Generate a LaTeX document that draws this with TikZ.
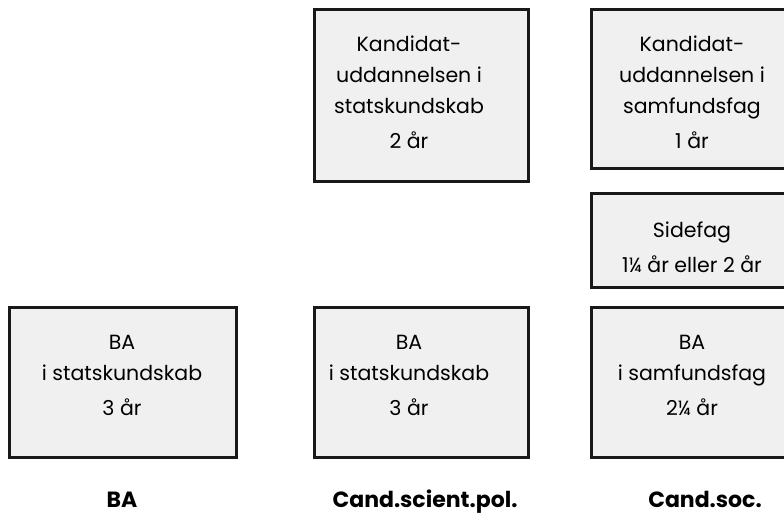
\documentclass[tikz,border=0pt]{standalone}
\usepackage{fontspec}
\setmainfont{Poppins}

\begin{document}
\begin{tikzpicture}[x=1pt,y=-1pt,
  box/.style={draw=black!90,line width=3pt,fill=black!6,inner sep=0pt},
  boxtext/.style={align=center,anchor=base,inner sep=0pt,font=\fontsize{20.5}{31}\selectfont},
  degree/.style={anchor=base,inner sep=0pt,font=\fontsize{22}{26}\selectfont\bfseries}]
\clip (0,0) rectangle (784,515);
% left column
\node[box,minimum width=227pt,minimum height=150pt](baL) at (122.5,382) {};
\node[boxtext](baLtxt) at (122,415) {BA\\i statskundskab\\[4pt]3 år};
% middle column
\node[box,minimum width=214pt,minimum height=172pt](kandPol) at (421,95) {};
\node[boxtext](kandPoltxt) at (409,148) {Kandidat-\\uddannelsen i\\statskundskab\\[4pt]2 år};
\node[box,minimum width=214pt,minimum height=150pt](baPol) at (421,382) {};
\node[boxtext](baPoltxt) at (409,415) {BA\\i statskundskab\\[4pt]3 år};
% right column
\node[box,minimum width=209pt,minimum height=159pt](kandSoc) at (695.5,88.5) {};
\node[boxtext](kandSoctxt) at (692,148) {Kandidat-\\uddannelsen i\\samfundsfag\\[4pt]1 år};
\node[box,minimum width=209pt,minimum height=94pt](sidefag) at (695.5,240) {};
\node[boxtext](sidefagtxt) at (692,272) {Sidefag\\[4pt]1¼ år eller 2 år};
\node[box,minimum width=209pt,minimum height=150pt](baSoc) at (695.5,382) {};
\node[boxtext](baSoctxt) at (692,415) {BA\\i samfundsfag\\[4pt]2¼ år};
% degrees
\node[degree](degBA) at (122,507) {BA};
\node[degree](degPol) at (425,507) {Cand.scient.pol.};
\node[degree](degSoc) at (705,507) {Cand.soc.};
\end{tikzpicture}
\end{document}
